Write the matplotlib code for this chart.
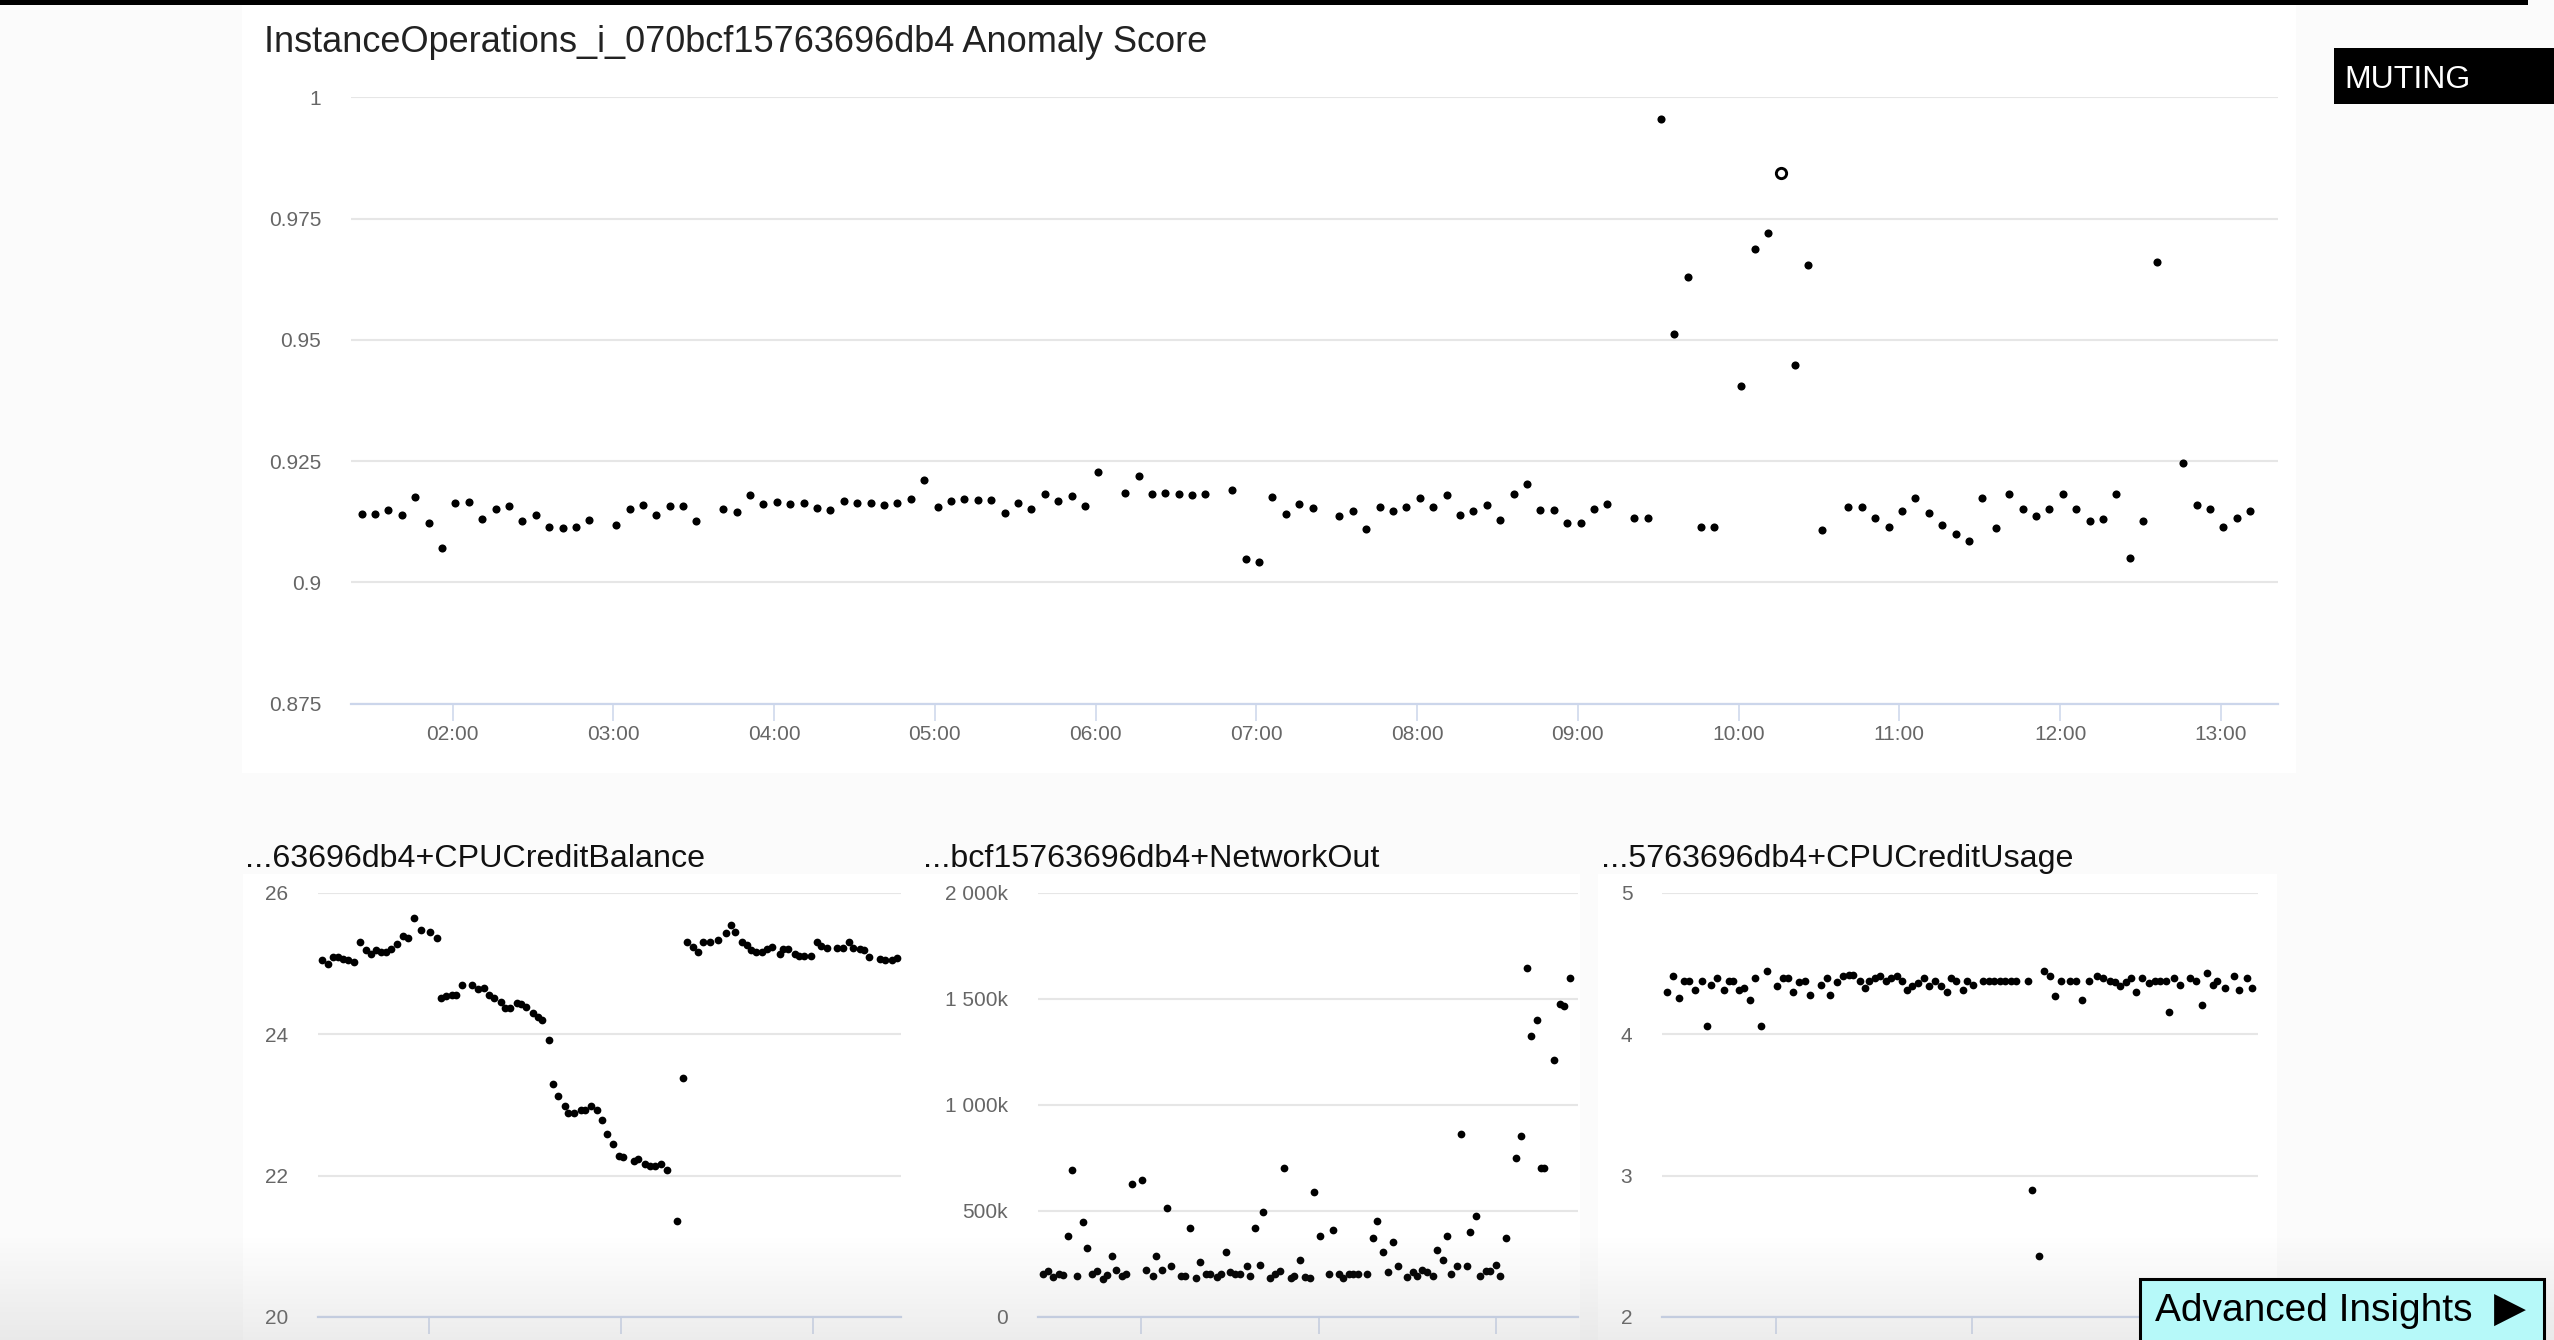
import numpy as np
import matplotlib
matplotlib.use("Agg")
import matplotlib.pyplot as plt
from matplotlib.patches import Rectangle

plt.rcParams['font.family'] = ['Liberation Sans', 'DejaVu Sans']

# ---------------- data ----------------
score_title = "InstanceOperations_i_070bcf15763696db4 Anomaly Score"
score_times = ["01:26", "01:31", "01:36", "01:41", "01:46", "01:51", "01:56", "02:01", "02:06", "02:11",
               "02:16", "02:21", "02:26", "02:31", "02:36", "02:41", "02:46", "02:51", "03:01", "03:06",
               "03:11", "03:16", "03:21", "03:26", "03:31", "03:41", "03:46", "03:51", "03:56", "04:01",
               "04:06", "04:11", "04:16", "04:21", "04:26", "04:31", "04:36", "04:41", "04:46", "04:51",
               "04:56", "05:01", "05:06", "05:11", "05:16", "05:21", "05:26", "05:31", "05:36", "05:41",
               "05:46", "05:51", "05:56", "06:01", "06:11", "06:16", "06:21", "06:26", "06:31", "06:36",
               "06:41", "06:51", "06:56", "07:01", "07:06", "07:11", "07:16", "07:21", "07:31", "07:36",
               "07:41", "07:46", "07:51", "07:56", "08:01", "08:06", "08:11", "08:16", "08:21", "08:26",
               "08:31", "08:36", "08:41", "08:46", "08:51", "08:56", "09:01", "09:06", "09:11", "09:21",
               "09:26", "09:31", "09:36", "09:41", "09:46", "09:51", "10:01", "10:06", "10:11", "10:21",
               "10:26", "10:31", "10:41", "10:46", "10:51", "10:56", "11:01", "11:06", "11:11", "11:16",
               "11:21", "11:26", "11:31", "11:36", "11:41", "11:46", "11:51", "11:56", "12:01", "12:06",
               "12:11", "12:16", "12:21", "12:26", "12:31", "12:36", "12:46", "12:51", "12:56", "13:01",
               "13:06", "13:11"]
score_vals = [0.9140, 0.9141, 0.9149, 0.9138, 0.9175, 0.9122, 0.9070, 0.9164, 0.9165, 0.9130,
              0.9151, 0.9157, 0.9127, 0.9138, 0.9115, 0.9112, 0.9115, 0.9128, 0.9119, 0.9151,
              0.9159, 0.9138, 0.9158, 0.9158, 0.9127, 0.9151, 0.9144, 0.9179, 0.9161, 0.9166,
              0.9162, 0.9163, 0.9154, 0.9150, 0.9167, 0.9163, 0.9163, 0.9159, 0.9164, 0.9171,
              0.9211, 0.9156, 0.9167, 0.9171, 0.9169, 0.9169, 0.9142, 0.9164, 0.9152, 0.9182,
              0.9168, 0.9177, 0.9158, 0.9228, 0.9184, 0.9220, 0.9182, 0.9184, 0.9183, 0.9181,
              0.9182, 0.9191, 0.9048, 0.9041, 0.9175, 0.9140, 0.9162, 0.9153, 0.9136, 0.9148,
              0.9110, 0.9155, 0.9146, 0.9156, 0.9174, 0.9156, 0.9180, 0.9139, 0.9148, 0.9159,
              0.9128, 0.9182, 0.9203, 0.9149, 0.9149, 0.9122, 0.9123, 0.9151, 0.9162, 0.9133,
              0.9133, 0.9956, 0.9513, 0.9630, 0.9115, 0.9115, 0.9405, 0.9688, 0.9721, 0.9449,
              0.9654, 0.9107, 0.9156, 0.9156, 0.9132, 0.9113, 0.9148, 0.9174, 0.9143, 0.9119,
              0.9099, 0.9086, 0.9173, 0.9111, 0.9182, 0.9151, 0.9136, 0.9151, 0.9182, 0.9152,
              0.9127, 0.9130, 0.9182, 0.9050, 0.9127, 0.9661, 0.9247, 0.9160, 0.9151, 0.9115,
              0.9132, 0.9146]
hover_time = "10:16"
hover_val = 0.9845
score_yticks = [0.875, 0.9, 0.925, 0.95, 0.975, 1.0]
score_ylabels = ["0.875", "0.9", "0.925", "0.95", "0.975", "1"]
score_xticks = ["02:00", "03:00", "04:00", "05:00", "06:00", "07:00", "08:00", "09:00",
                "10:00", "11:00", "12:00", "13:00"]

bal_title = "...63696db4+CPUCreditBalance"
bal_times = ["04:19", "04:25", "04:30", "04:34", "04:39", "04:44", "04:49", "04:55", "05:01", "05:05",
             "05:10", "05:15", "05:19", "05:24", "05:30", "05:35", "05:40", "05:46", "05:52", "06:01",
             "06:07", "06:11", "06:16", "06:21", "06:25", "06:31", "06:40", "06:46", "06:51", "06:56",
             "07:01", "07:07", "07:11", "07:16", "07:22", "07:26", "07:31", "07:37", "07:42", "07:46",
             "07:52", "07:56", "08:01", "08:07", "08:10", "08:16", "08:22", "08:26", "08:32", "08:37",
             "08:42", "08:47", "08:52", "08:58", "09:02", "09:12", "09:16", "09:22", "09:27", "09:32",
             "09:37", "09:43", "09:52", "09:58", "10:02", "10:07", "10:12", "10:17", "10:23", "10:31",
             "10:38", "10:43", "10:47", "10:53", "10:58", "11:02", "11:07", "11:12", "11:17", "11:22",
             "11:29", "11:32", "11:37", "11:43", "11:47", "11:52", "11:58", "12:04", "12:08", "12:13",
             "12:23", "12:28", "12:34", "12:38", "12:44", "12:48", "12:53", "13:03", "13:08", "13:14",
             "13:19"]
bal_vals = [25.05, 24.99, 25.09, 25.09, 25.06, 25.05, 25.02, 25.31, 25.19, 25.13,
            25.19, 25.16, 25.16, 25.21, 25.28, 25.39, 25.36, 25.65, 25.47, 25.44,
            25.36, 24.51, 24.54, 24.55, 24.55, 24.69, 24.69, 24.64, 24.66, 24.56,
            24.52, 24.46, 24.37, 24.37, 24.44, 24.43, 24.38, 24.30, 24.25, 24.20,
            23.92, 23.30, 23.13, 22.99, 22.88, 22.88, 22.93, 22.93, 22.99, 22.93,
            22.79, 22.59, 22.45, 22.28, 22.26, 22.21, 22.23, 22.17, 22.14, 22.14,
            22.17, 22.08, 21.36, 23.38, 25.31, 25.24, 25.16, 25.30, 25.31, 25.33,
            25.43, 25.54, 25.45, 25.30, 25.26, 25.19, 25.17, 25.17, 25.21, 25.24,
            25.14, 25.20, 25.20, 25.14, 25.11, 25.11, 25.11, 25.31, 25.25, 25.22,
            25.22, 25.22, 25.31, 25.22, 25.20, 25.19, 25.10, 25.07, 25.05, 25.05,
            25.08]
bal_yticks = [20, 22, 24, 26]
bal_ylabels = ["20", "22", "24", "26"]

net_title = "...bcf15763696db4+NetworkOut"
net_times = ["04:21", "04:26", "04:31", "04:37", "04:41", "04:46", "04:50", "04:55", "05:01", "05:05",
             "05:10", "05:15", "05:21", "05:25", "05:31", "05:35", "05:41", "05:45", "05:51", "06:01",
             "06:05", "06:12", "06:15", "06:21", "06:26", "06:30", "06:40", "06:45", "06:50", "06:56",
             "07:00", "07:06", "07:10", "07:17", "07:21", "07:26", "07:30", "07:35", "07:40", "07:47",
             "07:50", "07:56", "08:01", "08:04", "08:11", "08:16", "08:21", "08:25", "08:32", "08:35",
             "08:41", "08:46", "08:51", "08:55", "09:01", "09:11", "09:15", "09:21", "09:25", "09:31",
             "09:35", "09:40", "09:49", "09:55", "09:59", "10:05", "10:10", "10:15", "10:20", "10:30",
             "10:36", "10:40", "10:45", "10:50", "10:56", "11:00", "11:06", "11:10", "11:14", "11:20",
             "11:24", "11:30", "11:34", "11:40", "11:44", "11:50", "11:54", "12:00", "12:04", "12:10",
             "12:20", "12:25", "12:31", "12:35", "12:41", "12:45", "12:49", "12:59", "13:05", "13:09",
             "13:15"]
net_vals = [202, 215, 189, 202, 200, 380, 693, 192, 447, 325,
            202, 215, 179, 198, 288, 224, 195, 202, 626, 646,
            221, 195, 288, 221, 514, 241, 195, 195, 420, 182,
            260, 202, 202, 189, 202, 306, 211, 202, 202, 241,
            192, 420, 247, 494, 182, 202, 215, 701, 182, 195,
            267, 189, 182, 589, 380, 202, 410, 202, 182, 202,
            202, 202, 202, 371, 455, 306, 211, 354, 241, 189,
            211, 192, 224, 211, 192, 315, 267, 380, 202, 241,
            863, 241, 400, 475, 192, 215, 215, 247, 192, 371,
            748, 854, 1647, 1325, 1402, 702, 702, 1213, 1476, 1467,
            1600]  # in thousands
net_yticks = [0, 500, 1000, 1500, 2000]
net_ylabels = ["0", "500k", "1 000k", "1 500k", "2 000k"]

use_title = "...5763696db4+CPUCreditUsage"
use_times = ["04:20", "04:25", "04:31", "04:36", "04:40", "04:46", "04:52", "04:57", "05:00", "05:06",
             "05:12", "05:17", "05:21", "05:26", "05:31", "05:36", "05:41", "05:46", "05:52", "06:01",
             "06:07", "06:11", "06:16", "06:21", "06:27", "06:31", "06:42", "06:47", "06:50", "06:56",
             "07:02", "07:07", "07:11", "07:17", "07:22", "07:26", "07:31", "07:36", "07:41", "07:46",
             "07:51", "07:56", "08:01", "08:05", "08:11", "08:16", "08:21", "08:26", "08:32", "08:37",
             "08:41", "08:46", "08:52", "08:56", "09:01", "09:11", "09:16", "09:21", "09:26", "09:31",
             "09:36", "09:41", "09:52", "09:56", "10:02", "10:07", "10:12", "10:17", "10:22", "10:31",
             "10:36", "10:42", "10:48", "10:55", "11:01", "11:07", "11:12", "11:17", "11:22", "11:27",
             "11:31", "11:37", "11:43", "11:49", "11:53", "11:59", "12:02", "12:06", "12:12", "12:21",
             "12:26", "12:32", "12:37", "12:42", "12:46", "12:53", "13:01", "13:06", "13:13", "13:18"]
use_vals = [4.30, 4.41, 4.26, 4.38, 4.38, 4.31, 4.38, 4.06, 4.35, 4.40,
            4.31, 4.38, 4.38, 4.31, 4.33, 4.24, 4.40, 4.06, 4.45, 4.34,
            4.40, 4.40, 4.30, 4.37, 4.38, 4.28, 4.35, 4.40, 4.28, 4.37,
            4.41, 4.42, 4.42, 4.38, 4.33, 4.38, 4.40, 4.41, 4.38, 4.40,
            4.41, 4.38, 4.31, 4.34, 4.36, 4.40, 4.34, 4.38, 4.34, 4.30,
            4.40, 4.38, 4.31, 4.38, 4.35, 4.38, 4.38, 4.38, 4.38, 4.38,
            4.38, 4.38, 4.38, 2.90, 2.43, 4.45, 4.41, 4.27, 4.38, 4.38,
            4.38, 4.24, 4.38, 4.41, 4.40, 4.38, 4.37, 4.34, 4.37, 4.40,
            4.30, 4.40, 4.36, 4.38, 4.38, 4.38, 4.16, 4.40, 4.35, 4.40,
            4.38, 4.21, 4.43, 4.35, 4.38, 4.33, 4.41, 4.31, 4.40, 4.33]
use_yticks = [2, 3, 4, 5]
use_ylabels = ["2", "3", "4", "5"]

small_xticks = ["06:00", "09:00", "12:00"]


def hrs(t):
    h, m = t.split(":")
    return int(h) + float(m) / 60


W, H, DPI = 2554, 1340, 100
fig = plt.figure(figsize=(W / DPI, H / DPI), dpi=DPI, facecolor="#fbfbfb")


def rect(x0, y0, x1, y1):
    # pixel box with top-left origin -> figure fraction rect
    return [x0 / W, 1 - y1 / H, (x1 - x0) / W, (y1 - y0) / H]


def panel(x0, y0, x1, y1, **kw):
    r = rect(x0, y0, x1, y1)
    p = Rectangle((r[0], r[1]), r[2], r[3], transform=fig.transFigure, **kw)
    fig.patches.append(p)
    return p


# white panels behind the charts
panel(242, 5, 2296, 773, facecolor="white", edgecolor="none", zorder=-10)
panel(243, 874, 912, 1340, facecolor="white", edgecolor="none", zorder=-10)
panel(912, 874, 1580, 1340, facecolor="white", edgecolor="none", zorder=-10)
panel(1598, 874, 2277, 1340, facecolor="white", edgecolor="none", zorder=-10)

GRID = "#e6e6e6"
AXIS = "#ccd6eb"
LABEL = "#666666"


def style(ax, yticks, ylabels, xlabels):
    ax.set_facecolor("none")
    for s in ["top", "right", "left"]:
        ax.spines[s].set_visible(False)
    ax.spines["bottom"].set_color(AXIS)
    ax.spines["bottom"].set_linewidth(1.6)
    ax.set_yticks(yticks)
    ax.set_yticklabels(ylabels)
    ax.set_xticks([hrs(t) for t in xlabels])
    ax.set_xticklabels(xlabels)
    ax.grid(axis="y", color=GRID, linewidth=1.5)
    ax.set_axisbelow(True)
    ax.tick_params(axis="y", length=0, pad=21.5, labelsize=15, labelcolor=LABEL)
    ax.tick_params(axis="x", length=12, width=1.1, color=AXIS, pad=3.5,
                   labelsize=15, labelcolor=LABEL)


# ---------------- top chart ----------------
ax = fig.add_axes(rect(350.9, 97.4, 2277.6, 703.5))
ax.scatter([hrs(t) for t in score_times], score_vals, s=34, color="black",
           linewidths=0, zorder=3)
ax.plot([hrs(hover_time)], [hover_val], marker="o", ms=7.4, mfc="white",
        mec="black", mew=2.1, zorder=4)
ax.set_xlim(1 + 22.0 / 60, 13 + 21.2 / 60)
ax.set_ylim(0.875, 1.0)
style(ax, score_yticks, score_ylabels, score_xticks)
fig.text(264 / W, 1 - 51.7 / H, score_title, fontsize=26, color="#222222",
         ha="left", va="baseline")

# ---------------- bottom charts ----------------
small = [
    (rect(317.9, 892.9, 901.4, 1317.0), bal_title, bal_times, bal_vals, (20, 26),
     bal_yticks, bal_ylabels, 245.5),
    (rect(1038.0, 892.9, 1578.0, 1317.0), net_title, net_times, net_vals, (0, 2000),
     net_yticks, net_ylabels, 923),
    (rect(1662.2, 892.9, 2257.5, 1317.0), use_title, use_times, use_vals, (2, 5),
     use_yticks, use_ylabels, 1601),
]
for box, title, times, vals, ylim, yt, yl, tx in small:
    a = fig.add_axes(box)
    a.scatter([hrs(t) for t in times], vals, s=31, color="black", linewidths=0, zorder=3)
    a.set_xlim(4 + 15.5 / 60, 13 + 23.0 / 60)
    a.set_ylim(*ylim)
    style(a, yt, yl, small_xticks)
    fig.text(tx / W, 1 - 867.2 / H, title, fontsize=23.2, color="#111111",
             ha="left", va="baseline")

# soft grey fade at the bottom edge
g = fig.add_axes([0, 0, 1, 105 / H], zorder=5)
alpha = np.linspace(0, 0.16, 100)
grad = np.zeros((100, 2, 4))
grad[:, :, :3] = 0.55
grad[:, :, 3] = alpha[:, None]
g.imshow(grad, aspect="auto", extent=[0, 1, 0, 1], interpolation="bilinear")
g.axis("off")

# top black bar
panel(0, 0, 2528, 4.5, facecolor="black", edgecolor="none", zorder=10)

# MUTING badge
panel(2334, 47.7, 2560, 104, facecolor="black", edgecolor="none", zorder=10)
fig.text(2344 / W, 1 - 88.3 / H, "MUTING", fontsize=23, color="white",
         ha="left", va="baseline", zorder=11)

# Advanced Insights button
panel(2140, 1279.5, 2544, 1350, facecolor="#b6f9f9", edgecolor="black",
      linewidth=2.2, zorder=12)
fig.text(2155 / W, 1 - 1320.7 / H, "Advanced Insights", fontsize=28,
         color="black", ha="left", va="baseline", zorder=13)
fig.text(2494 / W, 1 - 1322 / H, "\u25B6", fontsize=30, family="DejaVu Sans",
         color="black", ha="left", va="baseline", zorder=13)

fig.savefig("out.png", dpi=DPI, facecolor=fig.get_facecolor())
